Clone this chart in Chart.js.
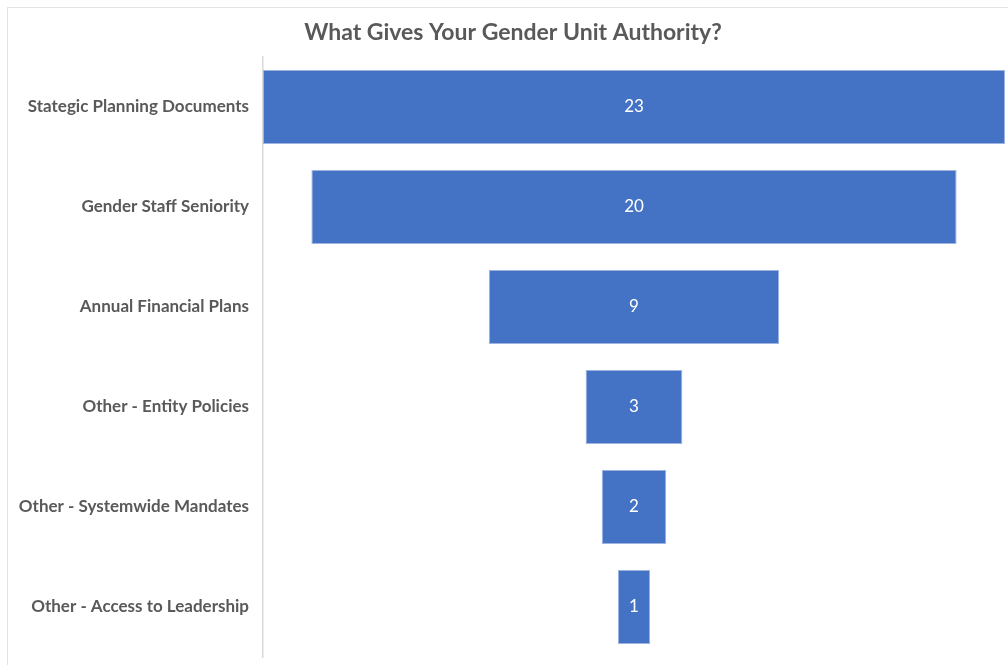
<!DOCTYPE html>
<html>
<head>
<meta charset="utf-8">
<title>What Gives Your Gender Unit Authority?</title>
<script src="https://cdn.jsdelivr.net/npm/chart.js@4"></script>
<style>
  html, body { margin: 0; padding: 0; background: #fff; }
  #wrap { position: relative; width: 1008px; height: 665px; overflow: hidden; }
  #frame { position: absolute; left: 7px; top: 7px; width: 1020px; height: 680px;
           border: 1px solid #e3e3e3; box-sizing: border-box; }
  canvas { position: absolute; left: 0; top: 0; }
</style>
</head>
<body>
<div id="wrap">
  <div id="frame"></div>
  <canvas id="myChart" width="1008" height="665"></canvas>
</div>
<script>
var chartTitle = 'What Gives Your Gender Unit Authority?';
var categories = [
  'Stategic Planning Documents',
  'Gender Staff Seniority',
  'Annual Financial Plans',
  'Other - Entity Policies',
  'Other - Systemwide Mandates',
  'Other - Access to Leadership'
];
var counts = [23, 20, 9, 3, 2, 1];

// funnel: each bar is centred on zero
var spans = counts.map(function (v) { return [-v / 2, v / 2]; });
var half = Math.max.apply(null, counts) / 2;

var labelFont = "Lato, 'Open Sans', sans-serif";

var titlePlugin = {
  id: 'titleText',
  afterDraw: function (chart) {
    var ctx = chart.ctx;
    ctx.save();
    ctx.fillStyle = '#595959';
    ctx.font = 'bold 23px ' + labelFont;
    ctx.textAlign = 'center';
    ctx.textBaseline = 'middle';
    ctx.fillText(chartTitle, 513, 33);
    ctx.restore();
  }
};

var valuePlugin = {
  id: 'valueText',
  afterDatasetsDraw: function (chart) {
    var ctx = chart.ctx;
    var meta = chart.getDatasetMeta(0);
    ctx.save();
    ctx.fillStyle = '#ffffff';
    ctx.font = '17px ' + labelFont;
    ctx.textAlign = 'center';
    ctx.textBaseline = 'middle';
    meta.data.forEach(function (bar, i) {
      var c = bar.getCenterPoint();
      ctx.fillText(String(counts[i]), c.x, c.y);
    });
    ctx.restore();
  }
};

const ctx = document.getElementById('myChart').getContext('2d');
const myChart = new Chart(ctx, {
  type: 'bar',
  data: {
    labels: categories,
    datasets: [{
      data: spans,
      backgroundColor: '#4472C4',
      borderColor: '#9db4e0',
      borderWidth: 1,
      borderSkipped: false,
      barPercentage: 0.74,
      categoryPercentage: 1
    }]
  },
  options: {
    indexAxis: 'y',
    responsive: false,
    animation: false,
    layout: { padding: { top: 57, right: 3, bottom: 8, left: 0 } },
    plugins: {
      legend: { display: false },
      tooltip: { enabled: false },
      title: { display: false }
    },
    scales: {
      x: { display: false, min: -half, max: half },
      y: {
        grid: { display: false, drawTicks: false },
        border: { display: true, color: '#d9d9d9', width: 1.5 },
        ticks: {
          color: '#595959',
          padding: 14,
          font: { family: labelFont, size: 17, weight: 'bold' }
        },
        afterFit: function (scale) {
          scale.width = 263;
          // labels sit inside their bands, no extra room needed above/below
          scale.paddingTop = 0;
          scale.paddingBottom = 0;
        }
      }
    }
  },
  plugins: [titlePlugin, valuePlugin]
});
</script>
</body>
</html>
